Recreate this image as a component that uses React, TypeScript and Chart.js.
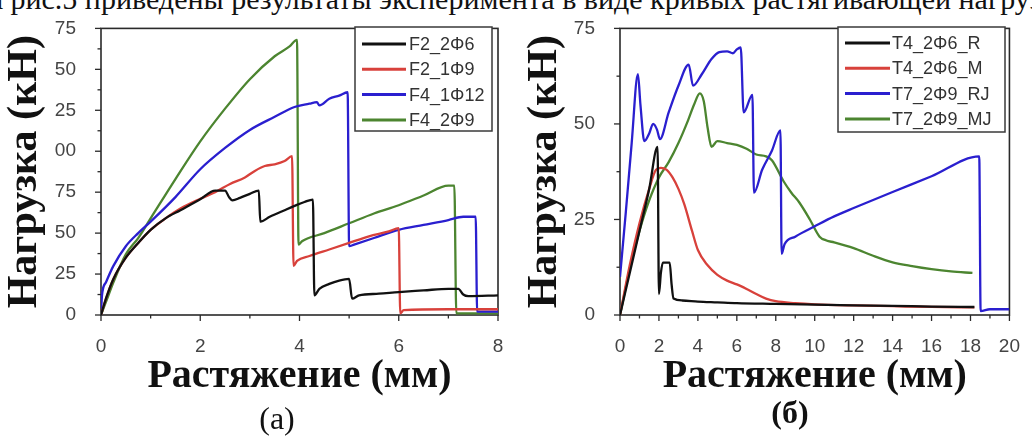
import React, { useEffect, useRef } from 'react';
import { Chart, registerables } from 'chart.js';

Chart.register(...registerables);

// ---------- Chart (а) ----------
const leftXTickValues = [0, 2, 4, 6, 8];
const leftXTickLabels = ['0', '2', '4', '6', '8'];
const leftYTickValues = [0, 25, 50, 75, 100, 125, 150, 175];
const leftYTickLabels = ['0', '25', '50', '75', '00', '25', '50', '75'];

const f2_2f6_x = [0, 0.1, 0.25, 0.5, 0.75, 1.0, 1.3, 1.6, 2.0, 2.3, 2.5, 2.58, 2.65, 2.8, 3.0, 3.18, 3.21, 3.4, 3.7, 3.9, 4.1, 4.27, 4.3, 4.4, 4.6, 4.8, 5.0, 5.06, 5.2, 5.6, 6.0, 6.5, 7.0, 7.2, 7.3, 7.4, 8.0];
const f2_2f6_y = [0, 10, 22, 35, 44, 52, 59, 64, 70.7, 76, 76, 72, 70, 71.5, 74, 76, 57, 60, 64, 66.6, 69, 70.5, 12, 16, 19, 21, 22, 10, 12, 13, 14, 15, 16, 16, 12.5, 11.5, 12];

const f2_1f9_x = [0, 0.1, 0.25, 0.5, 0.75, 1.0, 1.3, 1.6, 2.0, 2.3, 2.6, 2.9, 3.1, 3.3, 3.5, 3.7, 3.85, 3.88, 3.95, 4.2, 4.6, 5.0, 5.4, 5.8, 6.0, 6.03, 6.1, 7.0, 8.0];
const f2_1f9_y = [0, 10, 22, 35, 44, 52, 59, 65, 71, 75, 80, 84, 88, 91, 92, 94, 97, 30, 33, 36, 40, 44, 48, 51, 53, 1, 3, 3.5, 3.5];

const f4_1f12_x = [0, 0.02, 0.1, 0.25, 0.5, 0.75, 1.0, 1.5, 2.0, 2.5, 3.0, 3.5, 3.9, 4.2, 4.35, 4.4, 4.6, 4.8, 4.97, 5.0, 5.1, 5.5, 6.0, 6.5, 7.0, 7.3, 7.55, 7.58, 7.7, 8.0];
const f4_1f12_y = [0, 12, 20, 30, 42, 50, 57, 72, 89, 102, 113, 121, 127, 129, 130, 128, 132, 134, 136, 42, 43, 47, 52, 55, 58, 60, 60, 2, 2, 2];

const f4_2f9_x = [0, 0.1, 0.25, 0.5, 0.75, 1.0, 1.5, 2.0, 2.5, 3.0, 3.5, 3.8, 3.95, 3.98, 4.05, 4.5, 5.0, 5.5, 6.0, 6.5, 7.0, 7.12, 7.16, 7.3, 8.0];
const f4_2f9_y = [0, 8, 20, 37, 47, 59, 83, 106, 126, 144, 158, 164, 168, 43, 45, 50, 56, 62, 67, 73, 79, 79, 1, 1, 1];

// ---------- Chart (б) ----------
const rightXTickValues = [0, 2, 4, 6, 8, 10, 12, 14, 16, 18, 20];
const rightXTickLabels = ['0', '2', '4', '6', '8', '10', '12', '14', '16', '18', '20'];
const rightYTickValues = [0, 25, 50, 75];
const rightYTickLabels = ['0', '25', '50', '75'];

const t4_2f6_r_x = [0, 0.5, 1.0, 1.5, 1.93, 2.0, 2.1, 2.2, 2.55, 2.65, 2.75, 3.2, 4, 5, 6, 8, 10, 12, 14, 16, 18.2];
const t4_2f6_r_y = [0, 11, 22, 33, 44, 5.5, 11, 13.7, 13.7, 8, 4.3, 3.8, 3.5, 3.3, 3.1, 2.9, 2.7, 2.5, 2.4, 2.2, 2.1];

const t4_2f6_m_x = [0, 0.5, 1.0, 1.5, 1.85, 2.1, 2.4, 2.7, 3.0, 3.3, 3.7, 4.0, 4.5, 5.0, 5.5, 6.0, 6.5, 7.0, 7.5, 8.0, 9, 10, 12, 14, 16, 18.2];
const t4_2f6_m_y = [0, 13, 24, 33, 38, 38.5, 38, 36, 33, 29, 22, 17, 13, 10.5, 9, 8, 6.8, 5.5, 4.3, 3.6, 3.1, 2.8, 2.5, 2.3, 2.1, 2.0];

const t7_2f9_rj_x = [0, 0.3, 0.6, 0.92, 1.05, 1.25, 1.5, 1.7, 1.9, 2.05, 2.5, 3.0, 3.53, 3.75, 4.2, 4.7, 5.1, 5.5, 5.8, 6.0, 6.2, 6.35, 6.8, 6.88, 7.3, 7.8, 8.24, 8.3, 8.45, 9, 10, 11, 12, 14, 16, 18.45, 18.52, 19, 20];
const t7_2f9_rj_y = [10, 27, 45, 63, 55, 45.5, 47.5, 50, 48.5, 46, 53, 60, 65.5, 60, 63, 67, 68.8, 69, 68.5, 69.5, 70, 53, 57.6, 32, 38, 43, 48.3, 16, 18.5, 20.5, 23.2, 25.8, 28, 32.2, 36.3, 41.5, 1, 1.5, 1.5];

const t7_2f9_mj_x = [0, 0.5, 1.0, 1.5, 2.0, 2.5, 3.0, 3.5, 3.8, 4.1, 4.3, 4.5, 4.7, 5.0, 5.5, 6.0, 6.5, 7.0, 7.5, 7.8, 8.4, 8.8, 9.2, 9.75, 10.25, 10.6, 11, 12, 13, 14, 15, 16, 17, 18.1];
const t7_2f9_mj_y = [0, 12, 22, 30, 36, 40, 45, 51, 55, 58, 56, 49, 44, 45.5, 45, 44.5, 43.5, 42, 41.5, 40.5, 35, 32, 29.5, 25, 20.5, 19.5, 19, 17.5, 15.5, 13.8, 12.8, 12, 11.4, 11];

// ---------- styles ----------
const BLACK = '#111111';
const RED = '#d8413b';
const BLUE = '#2a1fcf';
const GREEN = '#4c8530';
const TICK_FONT = { family: '"Liberation Sans", Arial, sans-serif', size: 19 };
const TITLE_FAMILY = '"Liberation Serif", "Times New Roman", serif';

const pts = (xs: number[], ys: number[]) => xs.map((x, i) => ({ x, y: ys[i] }));

const labelFrom = (values: number[], labels: string[]) => (v: any) => {
  const i = values.indexOf(Number(v));
  return i >= 0 ? labels[i] : '';
};

const framePlugin = {
  id: 'frameTicks',
  beforeDatasetsDraw(chart: any) {
    const { ctx, chartArea: a } = chart;
    ctx.save();
    ctx.strokeStyle = '#2a2a2a';
    ctx.lineWidth = 1.6;
    ctx.strokeRect(a.left, a.top, a.right - a.left, a.bottom - a.top);
    ctx.lineWidth = 1.3;
    const xs = chart.scales.x;
    xs.ticks.forEach((t: any) => {
      const px = xs.getPixelForValue(t.value);
      const len = t.label ? 6 : 3.5;
      ctx.beginPath();
      ctx.moveTo(px, a.bottom);
      ctx.lineTo(px, a.bottom + len);
      ctx.stroke();
    });
    const ys = chart.scales.y;
    ys.ticks.forEach((t: any) => {
      const py = ys.getPixelForValue(t.value);
      const len = t.label ? 6 : 3.5;
      ctx.beginPath();
      ctx.moveTo(a.left, py);
      ctx.lineTo(a.left - len, py);
      ctx.stroke();
    });
    ctx.restore();
  },
};

const legendPlugin = {
  id: 'boxLegend',
  afterDraw(chart: any, _args: any, o: any) {
    if (!o || !o.box) return;
    const ctx = chart.ctx;
    const [l, t, r, b] = o.box;
    ctx.save();
    ctx.fillStyle = '#ffffff';
    ctx.fillRect(l, t, r - l, b - t);
    ctx.strokeStyle = '#3a3a3a';
    ctx.lineWidth = 1.5;
    ctx.strokeRect(l, t, r - l, b - t);
    ctx.font = '18px "Liberation Sans", Arial, sans-serif';
    ctx.textBaseline = 'middle';
    ctx.textAlign = 'left';
    chart.data.datasets.forEach((ds: any, i: number) => {
      const y = o.rowTop + i * o.rowGap;
      ctx.strokeStyle = ds.borderColor;
      ctx.lineWidth = 3;
      ctx.beginPath();
      ctx.moveTo(o.lineX0, y);
      ctx.lineTo(o.lineX1, y);
      ctx.stroke();
      ctx.fillStyle = '#333333';
      ctx.fillText(ds.label, o.textX, y + 1);
    });
    ctx.restore();
  },
};

type Series = { label: string; xs: number[]; ys: number[]; color: string };

function makeConfig(p: {
  series: Series[];
  xMax: number;
  yMax: number;
  xTickValues: number[];
  xTickLabels: string[];
  yTickValues: number[];
  yTickLabels: string[];
  yAxisWidth: number;
  padRight: number;
  legend: any;
}): any {
  return {
    type: 'line',
    data: {
      datasets: p.series.map((s) => ({
        label: s.label,
        data: pts(s.xs, s.ys),
        borderColor: s.color,
        backgroundColor: s.color,
        borderWidth: 2.3,
        pointRadius: 0,
        cubicInterpolationMode: 'monotone',
        fill: false,
      })),
    },
    options: {
      animation: false,
      responsive: false,
      devicePixelRatio: 1,
      layout: { padding: { top: 22, right: p.padRight, left: 0, bottom: 0 } },
      plugins: {
        legend: { display: false },
        tooltip: { enabled: false },
        boxLegend: p.legend,
      },
      scales: {
        x: {
          type: 'linear',
          min: 0,
          max: p.xMax,
          afterFit: (s: any) => {
            s.height = 124;
          },
          grid: { display: false },
          border: { display: false },
          ticks: {
            stepSize: 1,
            autoSkip: false,
            maxRotation: 0,
            minRotation: 0,
            padding: 12,
            color: '#444444',
            font: TICK_FONT,
            callback: labelFrom(p.xTickValues, p.xTickLabels),
          },
          title: {
            display: true,
            text: 'Растяжение (мм)',
            color: '#111111',
            font: { family: TITLE_FAMILY, size: 40, weight: 'bold' },
            padding: { top: 0, bottom: 38 },
          },
        },
        y: {
          type: 'linear',
          min: 0,
          max: p.yMax,
          afterFit: (s: any) => {
            s.width = p.yAxisWidth;
          },
          grid: { display: false },
          border: { display: false },
          ticks: {
            stepSize: 12.5,
            autoSkip: false,
            padding: 17,
            color: '#444444',
            font: TICK_FONT,
            callback: labelFrom(p.yTickValues, p.yTickLabels),
          },
          title: {
            display: true,
            text: 'Нагрузка (кН)',
            color: '#111111',
            font: { family: TITLE_FAMILY, size: 42, weight: 'bold' },
            padding: { top: 0, bottom: 0 },
          },
        },
      },
    },
    plugins: [framePlugin, legendPlugin],
  };
}

function ChartCanvas({ config, left, width }: { config: () => any; left: number; width: number }) {
  const ref = useRef<HTMLCanvasElement>(null);
  useEffect(() => {
    const chart = new Chart(ref.current as HTMLCanvasElement, config());
    return () => chart.destroy();
  }, []);
  return (
    <canvas
      ref={ref}
      width={width}
      height={439}
      style={{ position: 'absolute', left, top: 0, width, height: 439 }}
    />
  );
}

const leftConfig = () =>
  makeConfig({
    series: [
      { label: 'F2_2Φ6', xs: f2_2f6_x, ys: f2_2f6_y, color: BLACK },
      { label: 'F2_1Φ9', xs: f2_1f9_x, ys: f2_1f9_y, color: RED },
      { label: 'F4_1Φ12', xs: f4_1f12_x, ys: f4_1f12_y, color: BLUE },
      { label: 'F4_2Φ9', xs: f4_2f9_x, ys: f4_2f9_y, color: GREEN },
    ],
    xMax: 8,
    yMax: 175,
    xTickValues: leftXTickValues,
    xTickLabels: leftXTickLabels,
    yTickValues: leftYTickValues,
    yTickLabels: leftYTickLabels,
    yAxisWidth: 101,
    padRight: 22,
    legend: { box: [355, 27, 492, 131], lineX0: 362, lineX1: 406, textX: 409, rowTop: 44, rowGap: 25.3 },
  });

const rightConfig = () =>
  makeConfig({
    series: [
      { label: 'T4_2Φ6_R', xs: t4_2f6_r_x, ys: t4_2f6_r_y, color: BLACK },
      { label: 'T4_2Φ6_M', xs: t4_2f6_m_x, ys: t4_2f6_m_y, color: RED },
      { label: 'T7_2Φ9_RJ', xs: t7_2f9_rj_x, ys: t7_2f9_rj_y, color: BLUE },
      { label: 'T7_2Φ9_MJ', xs: t7_2f9_mj_x, ys: t7_2f9_mj_y, color: GREEN },
    ],
    xMax: 20,
    yMax: 75,
    xTickValues: rightXTickValues,
    xTickLabels: rightXTickLabels,
    yTickValues: rightYTickValues,
    yTickLabels: rightYTickLabels,
    yAxisWidth: 100,
    padRight: 15,
    legend: { box: [318, 27, 485, 132], lineX0: 325, lineX1: 370, textX: 372, rowTop: 43, rowGap: 25.3 },
  });

export default function App() {
  return (
    <div
      style={{
        position: 'fixed',
        left: 0,
        top: 0,
        width: 1032,
        height: 439,
        overflow: 'hidden',
        background: '#ffffff',
      }}
    >
      <div
        style={{
          position: 'absolute',
          left: -32,
          top: -16,
          fontFamily: TITLE_FAMILY,
          fontSize: 30,
          lineHeight: '30px',
          whiteSpace: 'nowrap',
          color: '#111',
        }}
      >
        На рис.5 приведены результаты эксперимента в виде кривых растягивающей нагрузки
      </div>
      <ChartCanvas config={leftConfig} left={0} width={520} />
      <ChartCanvas config={rightConfig} left={520} width={512} />
      <div
        style={{
          position: 'absolute',
          left: 227,
          width: 100,
          top: 402,
          textAlign: 'center',
          fontFamily: TITLE_FAMILY,
          fontSize: 32,
          lineHeight: '32px',
          color: '#111',
        }}
      >
        (а)
      </div>
      <div
        style={{
          position: 'absolute',
          left: 740,
          width: 100,
          top: 396,
          textAlign: 'center',
          fontFamily: TITLE_FAMILY,
          fontSize: 32,
          fontWeight: 'bold',
          lineHeight: '32px',
          color: '#111',
        }}
      >
        (б)
      </div>
    </div>
  );
}
